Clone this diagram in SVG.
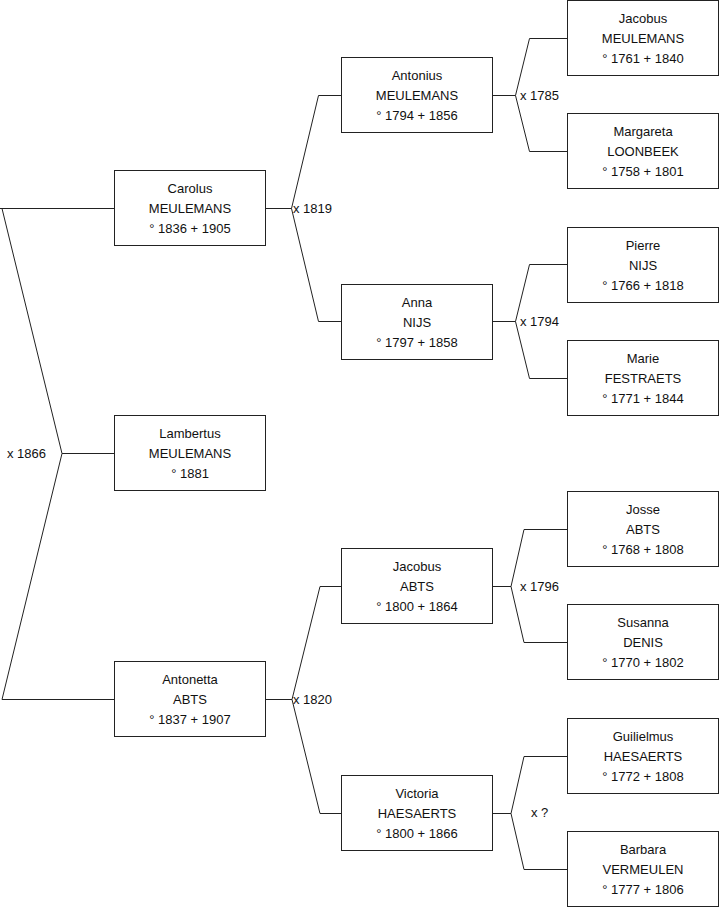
<svg xmlns="http://www.w3.org/2000/svg" width="719" height="908" viewBox="0 0 719 908">
<style>
.box{fill:#fff;stroke:#222;stroke-width:1}
.t{font-family:"Liberation Sans",Arial,sans-serif;font-size:13px;fill:#111;text-anchor:middle;dominant-baseline:central}
.lbl{font-family:"Liberation Sans",Arial,sans-serif;font-size:13px;fill:#111;dominant-baseline:central}
.c{fill:none;stroke:#222;stroke-width:1}
</style>
<rect width="719" height="908" fill="#fff"/>
<g id="connectors">
<path class="c" d="M0,208.5H114.5M2,208.5L62,453.5L2,699.5M62,453.5H114.5M2,699.5H114.5"/>
<path class="c" d="M265,208.5H291.5M341,95.5H318.5L291.5,208.5L318.5,321.5H341"/>
<path class="c" d="M265,699.5H292M341,586.5H320L292,699.5L320,813.5H341"/>
<path class="c" d="M492,95.5H515.5M567,38.5H529.5L515.5,95.5L529.5,151.5H567"/>
<path class="c" d="M492,321.5H515.5M567,264.5H529.5L515.5,321.5L529.5,378.5H567"/>
<path class="c" d="M492,586.5H511M567,529.5H524L511,586.5L524,642.5H567"/>
<path class="c" d="M492,813.5H511M567,756.5H524L511,813.5L524,869.5H567"/>
<text class="lbl" x="7" y="453">x 1866</text>
<text class="lbl" x="293" y="208">x 1819</text>
<text class="lbl" x="293" y="699">x 1820</text>
<text class="lbl" x="520" y="95">x 1785</text>
<text class="lbl" x="520" y="321">x 1794</text>
<text class="lbl" x="520" y="586">x 1796</text>
<text class="lbl" x="531" y="812">x ?</text>
</g>
<g id="carolus"><rect class="box" x="114.5" y="170.5" width="151" height="75"/><text class="t" x="190" y="188">Carolus</text><text class="t" x="190" y="208">MEULEMANS</text><text class="t" x="190" y="228">° 1836 + 1905</text></g>
<g id="lambertus"><rect class="box" x="114.5" y="415.5" width="151" height="75"/><text class="t" x="190" y="433">Lambertus</text><text class="t" x="190" y="453">MEULEMANS</text><text class="t" x="190" y="473">° 1881</text></g>
<g id="antonetta"><rect class="box" x="114.5" y="661.5" width="151" height="75"/><text class="t" x="190" y="679">Antonetta</text><text class="t" x="190" y="699">ABTS</text><text class="t" x="190" y="719">° 1837 + 1907</text></g>
<g id="antonius"><rect class="box" x="341.5" y="57.5" width="151" height="75"/><text class="t" x="417" y="75">Antonius</text><text class="t" x="417" y="95">MEULEMANS</text><text class="t" x="417" y="115">° 1794 + 1856</text></g>
<g id="anna"><rect class="box" x="341.5" y="284.5" width="151" height="75"/><text class="t" x="417" y="302">Anna</text><text class="t" x="417" y="322">NIJS</text><text class="t" x="417" y="342">° 1797 + 1858</text></g>
<g id="jacobus-abts"><rect class="box" x="341.5" y="548.5" width="151" height="75"/><text class="t" x="417" y="566">Jacobus</text><text class="t" x="417" y="586">ABTS</text><text class="t" x="417" y="606">° 1800 + 1864</text></g>
<g id="victoria"><rect class="box" x="341.5" y="775.5" width="151" height="75"/><text class="t" x="417" y="793">Victoria</text><text class="t" x="417" y="813">HAESAERTS</text><text class="t" x="417" y="833">° 1800 + 1866</text></g>
<g id="jacobus-m"><rect class="box" x="567.5" y="0.5" width="151" height="75"/><text class="t" x="643" y="18">Jacobus</text><text class="t" x="643" y="38">MEULEMANS</text><text class="t" x="643" y="58">° 1761 + 1840</text></g>
<g id="margareta"><rect class="box" x="567.5" y="113.5" width="151" height="75"/><text class="t" x="643" y="131">Margareta</text><text class="t" x="643" y="151">LOONBEEK</text><text class="t" x="643" y="171">° 1758 + 1801</text></g>
<g id="pierre"><rect class="box" x="567.5" y="227.5" width="151" height="75"/><text class="t" x="643" y="245">Pierre</text><text class="t" x="643" y="265">NIJS</text><text class="t" x="643" y="285">° 1766 + 1818</text></g>
<g id="marie"><rect class="box" x="567.5" y="340.5" width="151" height="75"/><text class="t" x="643" y="358">Marie</text><text class="t" x="643" y="378">FESTRAETS</text><text class="t" x="643" y="398">° 1771 + 1844</text></g>
<g id="josse"><rect class="box" x="567.5" y="491.5" width="151" height="75"/><text class="t" x="643" y="509">Josse</text><text class="t" x="643" y="529">ABTS</text><text class="t" x="643" y="549">° 1768 + 1808</text></g>
<g id="susanna"><rect class="box" x="567.5" y="604.5" width="151" height="75"/><text class="t" x="643" y="622">Susanna</text><text class="t" x="643" y="642">DENIS</text><text class="t" x="643" y="662">° 1770 + 1802</text></g>
<g id="guilielmus"><rect class="box" x="567.5" y="718.5" width="151" height="75"/><text class="t" x="643" y="736">Guilielmus</text><text class="t" x="643" y="756">HAESAERTS</text><text class="t" x="643" y="776">° 1772 + 1808</text></g>
<g id="barbara"><rect class="box" x="567.5" y="831.5" width="151" height="75"/><text class="t" x="643" y="849">Barbara</text><text class="t" x="643" y="869">VERMEULEN</text><text class="t" x="643" y="889">° 1777 + 1806</text></g>
</svg>
